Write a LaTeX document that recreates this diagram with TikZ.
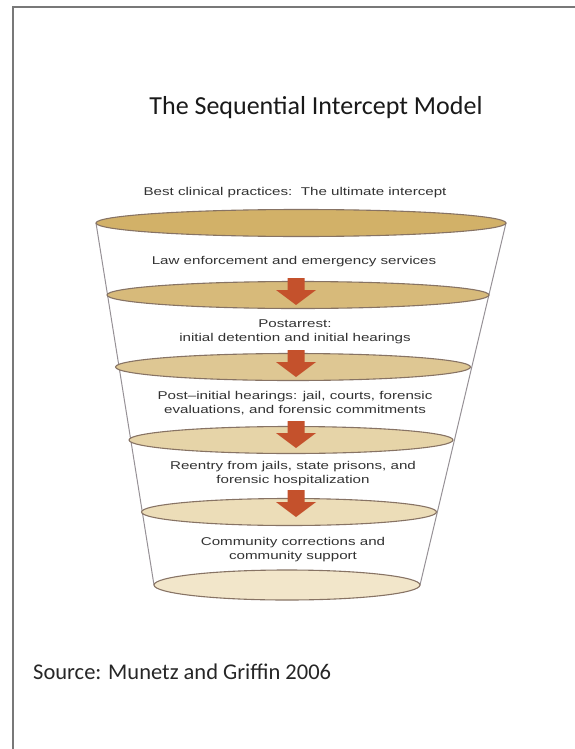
\documentclass[tikz,border=0pt]{standalone}
\usepackage{fontspec}
\setmainfont{Carlito}
\newfontfamily\funfont[FakeStretch=1.34]{Liberation Sans}
\usetikzlibrary{shapes.geometric}
\definecolor{framec}{RGB}{120,120,120}
\definecolor{sidec}{RGB}{150,145,150}
\definecolor{rimc}{RGB}{135,115,100}
\definecolor{arrowc}{RGB}{196,81,44}
\definecolor{txtc}{RGB}{50,50,50}
\definecolor{eA}{RGB}{210,177,104}
\definecolor{eB}{RGB}{215,186,122}
\definecolor{eC}{RGB}{222,199,147}
\definecolor{eD}{RGB}{230,212,168}
\definecolor{eE}{RGB}{236,221,184}
\definecolor{eF}{RGB}{242,230,202}
\tikzset{
  disc/.style={ellipse, draw=rimc, line width=1.1pt, inner sep=0pt, minimum height=27pt},
  lbl/.style={font=\funfont\fontsize{11.3}{13.8}\selectfont, text=txtc, align=center, inner sep=0pt},
  side/.style={draw=sidec, line width=1pt},
  downarrow/.style={fill=arrowc}
}
\newcommand\dnarrow[1]{\fill[downarrow] (#1) -- ++(-20,-15) -- ++(11.5,0) -- ++(0,-12) -- ++(17,0) -- ++(0,12) -- ++(11.5,0) -- cycle;}
\begin{document}
\begin{tikzpicture}[x=1pt,y=-1pt]
\useasboundingbox (0,0) rectangle (574,749);
\draw[framec, line width=2pt] (13,752) -- (13,7) -- (577,7);

\node[lbl] (title) at (316,108) {\fontsize{26}{30}\rmfamily\color{black!90}The Sequential Intercept Model};

\coordinate (l1) at (96,223);
\coordinate (r1) at (506,223);
\coordinate (l6) at (154,585);
\coordinate (r6) at (420,585);
\draw[side] (l1) -- (l6);
\draw[side] (r1) -- (r6);

\node[disc, fill=eA, minimum width=410pt] (e1) at (301,223) {};
\node[disc, fill=eB, minimum width=382pt] (e2) at (298,295) {};
\node[disc, fill=eC, minimum width=355pt] (e3) at (293,367) {};
\node[disc, fill=eD, minimum width=324pt] (e4) at (291,440) {};
\node[disc, fill=eE, minimum width=295pt] (e5) at (289,512) {};
\node[disc, fill=eF, minimum width=266pt, minimum height=30pt] (e6) at (287,585) {};

\coordinate (a1) at (296,305);
\coordinate (a2) at (296,377);
\coordinate (a3) at (296,448);
\coordinate (a4) at (296,517);
\dnarrow{a1}
\dnarrow{a2}
\dnarrow{a3}
\dnarrow{a4}

\node[lbl] (t0) at (295,193) {Best clinical practices:\ \ The ultimate intercept};
\node[lbl] (t1) at (294,262) {Law enforcement and emergency services};
\node[lbl] (t2) at (295,331.5) {Postarrest:\\initial detention and initial hearings};
\node[lbl] (t3) at (295,403.5) {Post–initial hearings: jail, courts, forensic\\evaluations, and forensic commitments};
\node[lbl] (t4) at (293,473.5) {Reentry from jails, state prisons, and\\forensic hospitalization};
\node[lbl] (t5) at (293,549.5) {Community corrections and\\community support};

\node[anchor=west, inner sep=0pt, font=\fontsize{22.5}{26}\selectfont, text=black!85] (src) at (33,672) {Source: Munetz and Griffin 2006};
\end{tikzpicture}
\end{document}
